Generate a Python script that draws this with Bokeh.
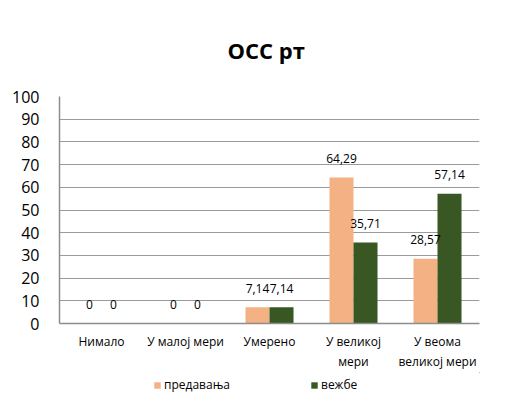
from bokeh.plotting import figure
from bokeh.layouts import column
from bokeh.models import ColumnDataSource, FactorRange, FixedTicker, Legend, LegendItem, Title
from bokeh.transform import dodge
from bokeh.core.properties import value
from bokeh.embed import file_html
from bokeh.resources import INLINE

categories = ["Нимало", "У малој мери", "Умерено", "У великој\nмери", "У веома\nвеликој мери"]
predavanja = [0, 0, 7.14, 64.29, 28.57]
vezbe = [0, 0, 7.14, 35.71, 57.14]
series_names = ["предавања", "вежбе"]
y_ticks = [0, 10, 20, 30, 40, 50, 60, 70, 80, 90, 100]

FONT = "Open Sans"
ORANGE = "#F4B183"
GREEN = "#385723"

def fmt(v):
    return ("%g" % v).replace(".", ",")

src = ColumnDataSource(dict(
    cat=categories,
    p=predavanja,
    v=vezbe,
    pl=[fmt(x) for x in predavanja],
    vl=[fmt(x) for x in vezbe],
))

p = figure(x_range=FactorRange(*categories, range_padding=0), y_range=(0, 100),
           width=514, height=372, output_backend="svg", toolbar_location=None,
           min_border_left=59, min_border_right=35, min_border_top=96, min_border_bottom=47)
p.outline_line_color = None

p.title = Title(text="ОСС рт", align="left", text_font=FONT, text_font_size="22px",
                text_font_style="bold", text_color="#000000", standoff=64, offset=168)

r1 = p.vbar(x=dodge("cat", -0.143, range=p.x_range), top="p", width=0.286, source=src,
            fill_color=ORANGE, line_color=None)
r2 = p.vbar(x=dodge("cat", 0.143, range=p.x_range), top="v", width=0.286, source=src,
            fill_color=GREEN, line_color=None)

p.text(x=dodge("cat", -0.143, range=p.x_range), y="p", text="pl", source=src,
       text_align="center", text_baseline="middle", y_offset=-19,
       text_font=value(FONT), text_font_size="12px", text_color="#000000")
p.text(x=dodge("cat", 0.143, range=p.x_range), y="v", text="vl", source=src,
       text_align="center", text_baseline="middle", y_offset=-19,
       text_font=value(FONT), text_font_size="12px", text_color="#000000")

p.yaxis.ticker = FixedTicker(ticks=y_ticks)
p.yaxis.major_label_text_font = FONT
p.yaxis.major_label_text_font_size = "16px"
p.yaxis.major_label_text_color = "#000000"
p.yaxis.major_tick_line_color = None
p.yaxis.minor_tick_line_color = None
p.yaxis.axis_line_color = "#8c8c8c"
p.yaxis.axis_line_width = 1.5
p.yaxis.major_label_standoff = 14

p.xaxis.major_label_text_font = FONT
p.xaxis.major_label_text_font_size = "12px"
p.xaxis.major_label_text_color = "#000000"
p.xaxis.major_tick_line_color = None
p.xaxis.axis_line_color = "#8c8c8c"
p.xaxis.axis_line_width = 1.5
p.xaxis.major_label_standoff = 3

p.xgrid.grid_line_color = None
p.ygrid.grid_line_color = "#9a9a9a"
p.ygrid.grid_line_width = 1

# legend strip (zero-width proxy bars, out of view, carry the legend swatches)
lg = figure(width=514, height=21, x_range=(-20, -10), y_range=(-20, -10), output_backend="svg",
            toolbar_location=None, x_axis_location=None, y_axis_location=None, min_border=0)
lg.outline_line_color = None
lg.grid.grid_line_color = None
q1 = lg.vbar(x="p", top="p", width=0, source=src, fill_color=ORANGE, line_color=None)
q2 = lg.vbar(x="v", top="v", width=0, source=src, fill_color=GREEN, line_color=None)
legend = Legend(items=[LegendItem(label=series_names[0], renderers=[q1]),
                       LegendItem(label=series_names[1], renderers=[q2])],
                orientation="horizontal", location=(94, 0),
                glyph_width=8, glyph_height=8, label_standoff=3, spacing=80,
                padding=0, margin=0, border_line_color=None, background_fill_alpha=0,
                label_text_font=FONT, label_text_font_size="12px", label_text_color="#000000",
                label_height=14, label_width=62)
lg.add_layout(legend)

layout = column(p, lg, spacing=0)
open("out.html", "w").write(file_html(layout, INLINE))
